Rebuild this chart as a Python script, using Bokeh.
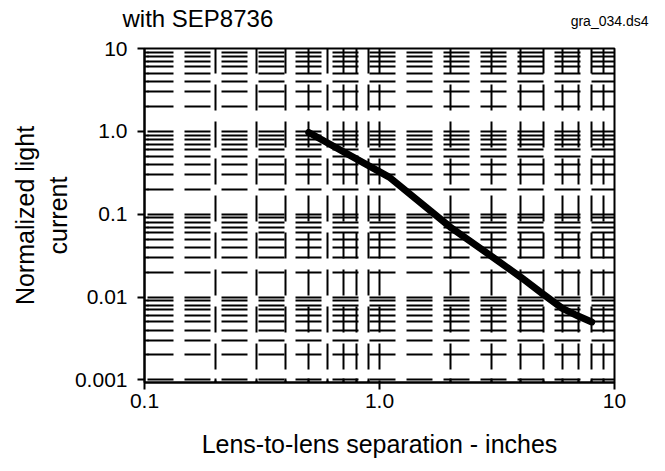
import math
from bokeh.plotting import figure
from bokeh.layouts import column
from bokeh.models import Range1d, FixedTicker, Label, Title
from bokeh.embed import file_html
from bokeh.resources import INLINE

# ---- data ----
separation_in = [0.5, 1.1, 2.0, 3.0, 4.0, 5.0, 6.0, 7.0, 8.0]
normalized_current = [0.97, 0.28, 0.07, 0.031, 0.0173, 0.0107, 0.0073, 0.0059, 0.005]

x_major = [0.1, 1.0, 10.0]
x_major_labels = ["0.1", "1.0", "10"]
x_minor = [0.2, 0.3, 0.4, 0.5, 0.6, 0.7, 0.8, 0.9,
           2.0, 3.0, 4.0, 5.0, 6.0, 7.0, 8.0, 9.0]
y_major = [0.001, 0.01, 0.1, 1.0, 10.0]
y_major_labels = ["0.001", "0.01", "0.1", "1.0", "10"]
y_minor = [0.002, 0.003, 0.004, 0.005, 0.006, 0.007, 0.008, 0.009,
           0.02, 0.03, 0.04, 0.05, 0.06, 0.07, 0.08, 0.09,
           0.2, 0.3, 0.4, 0.5, 0.6, 0.7, 0.8, 0.9,
           2.0, 3.0, 4.0, 5.0, 6.0, 7.0, 8.0, 9.0]

title_text = "with SEP8736"
file_tag = "gra_034.ds4"
x_title = "Lens-to-lens separation - inches"
y_title_lines = ["Normalized light", "current"]

FONT = "Liberation Sans"
W = 657
HEAD_H = 36

# ---- header strip holding the title and the file tag ----
head = figure(width=W, height=HEAD_H, x_range=Range1d(0, W), y_range=Range1d(HEAD_H, 0),
              toolbar_location=None, output_backend="svg",
              x_axis_location=None, y_axis_location=None,
              min_border=0, min_border_left=0, min_border_right=0,
              min_border_top=0, min_border_bottom=0)
head.frame_align = False
head.outline_line_color = None
head.background_fill_color = "white"
head.border_fill_color = "white"
head.xgrid.visible = False
head.ygrid.visible = False
head.add_layout(Label(x=122, y=18, text=title_text, text_font=FONT,
                      text_font_size="24px", text_color="black",
                      text_align="left", text_baseline="alphabetic"))
head.add_layout(Label(x=648, y=20, text=file_tag, text_font=FONT,
                      text_font_size="14px", text_color="black",
                      text_align="right", text_baseline="alphabetic"))

# ---- main chart ----
p = figure(width=W, height=463 - HEAD_H,
           x_axis_type="log", y_axis_type="log",
           x_range=Range1d(0.1, 10), y_range=Range1d(0.00093, 10),
           toolbar_location=None, output_backend="svg",
           min_border_left=144, min_border_right=43,
           min_border_top=12, min_border_bottom=81)
p.frame_align = False
p.background_fill_color = "white"
p.border_fill_color = "white"
p.outline_line_color = "black"
p.outline_line_width = 2

p.xaxis.ticker = FixedTicker(ticks=x_major, minor_ticks=x_minor)
p.yaxis.ticker = FixedTicker(ticks=y_major, minor_ticks=y_minor)
p.xaxis.major_label_overrides = {t: s for t, s in zip(x_major, x_major_labels)}
p.yaxis.major_label_overrides = {t: s for t, s in zip(y_major, y_major_labels)}

for ax in (p.xaxis, p.yaxis):
    ax.axis_line_color = "black"
    ax.axis_line_width = 2
    ax.major_tick_line_color = "black"
    ax.major_tick_line_width = 2
    ax.major_tick_out = 7
    ax.major_tick_in = 0
    ax.minor_tick_line_color = "black"
    ax.minor_tick_line_width = 2
    ax.minor_tick_out = 0
    ax.minor_tick_in = 4
    ax.major_label_text_font = FONT
    ax.major_label_text_font_size = "21px"
    ax.major_label_text_color = "black"
p.yaxis.major_label_standoff = 10
p.xaxis.major_label_standoff = 4

p.xaxis.axis_label = x_title
p.xaxis.axis_label_text_font = FONT
p.xaxis.axis_label_text_font_size = "25px"
p.xaxis.axis_label_text_font_style = "normal"
p.xaxis.axis_label_text_color = "black"
p.xaxis.axis_label_standoff = 19

# y-axis title on two lines (inner line added first)
p.add_layout(Title(text=y_title_lines[1], align="center", standoff=0,
                   text_font=FONT, text_font_size="25px",
                   text_font_style="normal", text_color="black"), "left")
p.add_layout(Title(text=y_title_lines[0], align="center", standoff=6,
                   text_font=FONT, text_font_size="25px",
                   text_font_style="normal", text_color="black"), "left")

# broken grid lines like the scanned datasheet
for g, off in ((p.ygrid, -3), (p.xgrid, 24)):
    g.grid_line_color = "black"
    g.grid_line_width = 2
    g.grid_line_dash = "26 11"
    g.grid_line_dash_offset = off
    g.minor_grid_line_color = "black"
    g.minor_grid_line_width = 2
    g.minor_grid_line_dash = "26 11"
    g.minor_grid_line_dash_offset = off

# curve
p.line(separation_in, normalized_current, line_color="black", line_width=7,
       line_join="round", line_cap="round")

layout = column(head, p, spacing=0)
open("out.html", "w").write(file_html(layout, INLINE))
